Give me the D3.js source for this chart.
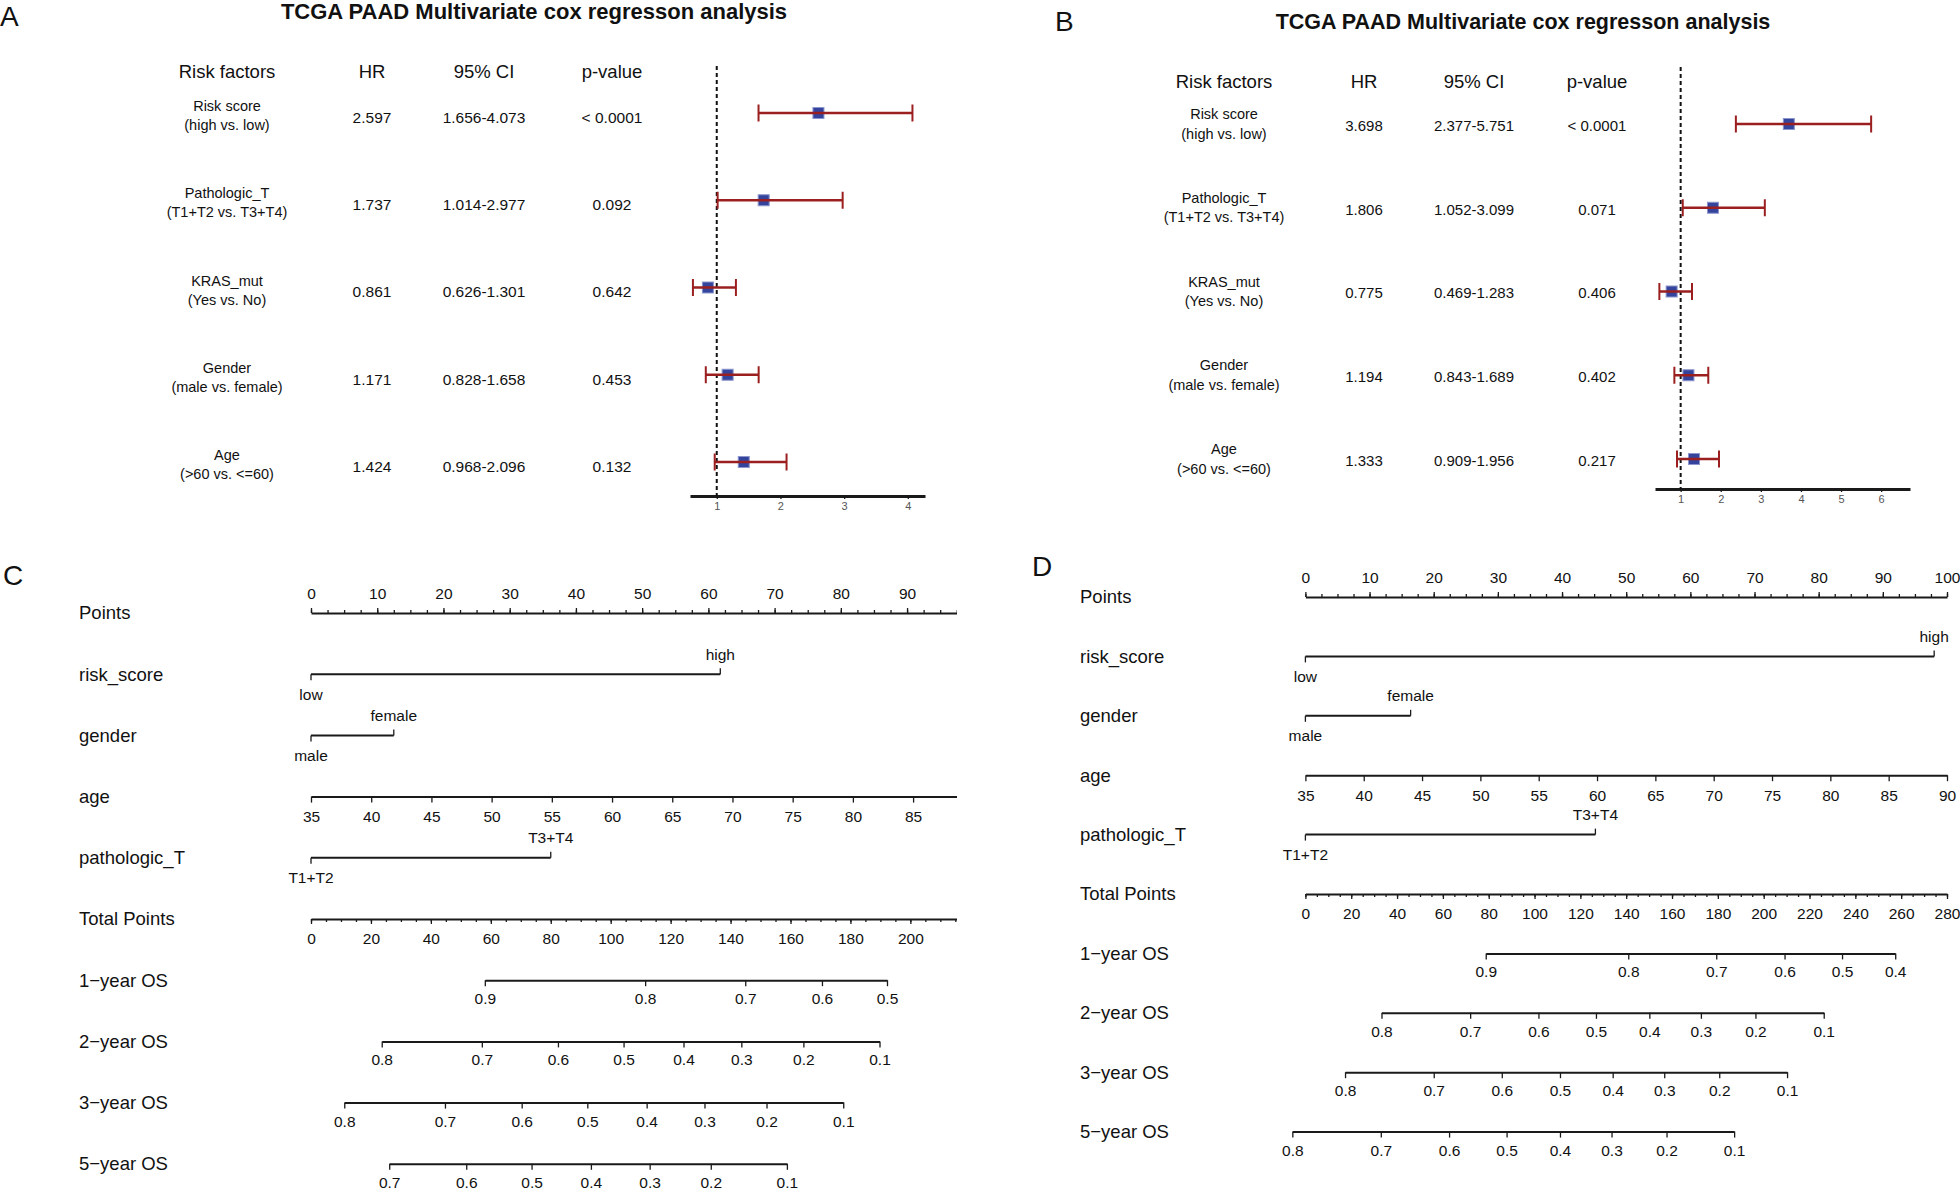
<!DOCTYPE html>
<html>
<head>
<meta charset="utf-8">
<script src="https://cdn.jsdelivr.net/npm/d3@7"></script>
<style>
  body { margin: 0; background: #fff; }
  svg { display: block; font-family: "Liberation Sans", Arial, sans-serif; }
</style>
</head>
<body>
<script>
// ---- A / B : multivariate cox regression ----
var factorNames = ["Risk score", "Pathologic_T", "KRAS_mut", "Gender", "Age"];
var factorContrasts = ["(high vs. low)", "(T1+T2 vs. T3+T4)", "(Yes vs. No)", "(male vs. female)", "(>60 vs. <=60)"];
var headers = ["Risk factors", "HR", "95% CI", "p-value"];

var hrA = [2.597, 1.737, 0.861, 1.171, 1.424];
var lowA = [1.656, 1.014, 0.626, 0.828, 0.968];
var highA = [4.073, 2.977, 1.301, 1.658, 2.096];
var pA = ["< 0.0001", "0.092", "0.642", "0.453", "0.132"];
var forestTicksA = [1, 2, 3, 4];

var hrB = [3.698, 1.806, 0.775, 1.194, 1.333];
var lowB = [2.377, 1.052, 0.469, 0.843, 0.909];
var highB = [5.751, 3.099, 1.283, 1.689, 1.956];
var pB = ["< 0.0001", "0.071", "0.406", "0.402", "0.217"];
var forestTicksB = [1, 2, 3, 4, 5, 6];

// ---- C / D : nomograms ----
var nomoLabels = ["Points", "risk_score", "gender", "age", "pathologic_T", "Total Points",
    "1\u2212year OS", "2\u2212year OS", "3\u2212year OS", "5\u2212year OS"];
var riskLevels = ["low", "high"];
var genderLevels = ["male", "female"];
var tLevels = ["T1+T2", "T3+T4"];
var pointTicks = [0, 10, 20, 30, 40, 50, 60, 70, 80, 90, 100];
var ageTicks = [35, 40, 45, 50, 55, 60, 65, 70, 75, 80, 85, 90];

// panel C (points for each level)
var riskPtsC = [0, 61.8];
var genderPtsC = [0, 12.5];
var tPtsC = [0, 36.2];
var totalTicksC = [0, 20, 40, 60, 80, 100, 120, 140, 160, 180, 200, 220];
var totalMaxC = 221;
var os1yC = [0.9, 0.8, 0.7, 0.6, 0.5];
var os1yTotalC = [58.0, 111.5, 144.9, 170.5, 192.2];
var os2yC = [0.8, 0.7, 0.6, 0.5, 0.4, 0.3, 0.2, 0.1];
var os2yTotalC = [23.6, 57.0, 82.4, 104.3, 124.3, 143.6, 164.3, 189.7];
var os3yC = [0.8, 0.7, 0.6, 0.5, 0.4, 0.3, 0.2, 0.1];
var os3yTotalC = [11.1, 44.7, 70.3, 92.2, 112.0, 131.3, 152.0, 177.6];
var os5yC = [0.7, 0.6, 0.5, 0.4, 0.3, 0.2, 0.1];
var os5yTotalC = [26.1, 51.8, 73.6, 93.4, 113.0, 133.4, 158.8];

// panel D
var riskPtsD = [0, 98.0];
var genderPtsD = [0, 16.4];
var tPtsD = [0, 45.2];
var totalTicksD = [0, 20, 40, 60, 80, 100, 120, 140, 160, 180, 200, 220, 240, 260, 280];
var totalMaxD = 280;
var os1yD = [0.9, 0.8, 0.7, 0.6, 0.5, 0.4];
var os1yTotalD = [78.7, 140.9, 179.3, 209.1, 234.2, 257.4];
var os2yD = [0.8, 0.7, 0.6, 0.5, 0.4, 0.3, 0.2, 0.1];
var os2yTotalD = [33.2, 71.9, 101.7, 126.8, 150.1, 172.6, 196.4, 226.2];
var os3yD = [0.8, 0.7, 0.6, 0.5, 0.4, 0.3, 0.2, 0.1];
var os3yTotalD = [17.3, 56.0, 85.7, 111.1, 134.1, 156.6, 180.6, 210.2];
var os5yD = [0.8, 0.7, 0.6, 0.5, 0.4, 0.3, 0.2, 0.1];
var os5yTotalD = [-5.7, 32.9, 62.7, 87.8, 111.1, 133.6, 157.6, 187.1];

var ink = "#1a1a1a";

var svg = d3.select("body").append("svg")
    .attr("width", 1960)
    .attr("height", 1192);

//text helper, y is the visual middle of the text
function addText(g, x, y, str, size, anchor, weight) {
    return g.append("text")
        .attr("x", x)
        .attr("y", y)
        .attr("dy", "0.35em")
        .attr("font-size", size)
        .attr("text-anchor", anchor || "middle")
        .attr("font-weight", weight || "normal")
        .attr("fill", "#111")
        .text(str);
}

function styleAxis(ax, domainWidth, labelSize) {
    ax.attr("font-family", null).attr("font-size", null);
    ax.select(".domain").attr("stroke", ink).attr("stroke-width", domainWidth);
    ax.selectAll(".tick line").attr("stroke", ink).attr("stroke-width", 1.3);
    ax.selectAll(".tick text").attr("fill", "#111").attr("font-size", labelSize);
}

//forest plot panel
function drawForest(p) {
    var g = svg.append("g");
    addText(g, p.letterX, p.letterY, p.letter, 28, "start");
    addText(g, p.titleX, p.titleY, "TCGA PAAD Multivariate cox regresson analysis", p.titleSize, "middle", "bold");

    headers.forEach(function(h, i) {
        addText(g, p.colX[i], p.headerY, h, 18.5);
    });

    var y = d3.scaleLinear().domain([0, factorNames.length - 1]).range(p.rowRange);
    var x = d3.scaleLinear().domain(p.xDomain).range(p.xRange);

    var rows = factorNames.map(function(f, i) {
        return { name: f, contrast: factorContrasts[i], hr: p.hr[i], lo: p.low[i], hi: p.high[i], pv: p.p[i], i: i };
    });

    rows.forEach(function(d) {
        addText(g, p.colX[0], y(d.i) + p.labelOff[0], d.name, 14.5);
        addText(g, p.colX[0], y(d.i) + p.labelOff[1], d.contrast, 14.5);
        addText(g, p.colX[1], y(d.i) + p.valueOff, d.hr.toFixed(3), p.valueSize);
        addText(g, p.colX[2], y(d.i) + p.valueOff, d.lo.toFixed(3) + "-" + d.hi.toFixed(3), p.valueSize);
        addText(g, p.colX[3], y(d.i) + p.valueOff, d.pv, p.valueSize);
    });

    //x axis
    var ax = g.append("g")
        .attr("transform", "translate(0," + p.axisY + ")")
        .call(d3.axisBottom(x).tickValues(p.ticks).tickSize(3).tickSizeOuter(0).tickPadding(3)
            .tickFormat(d3.format("d")));
    styleAxis(ax, 3, 11);
    ax.selectAll(".tick text").attr("fill", "#555");

    //reference line at HR = 1
    g.append("line")
        .attr("x1", x(1)).attr("x2", x(1))
        .attr("y1", p.dashTop).attr("y2", p.axisY)
        .attr("stroke", "#111")
        .attr("stroke-width", 2)
        .attr("stroke-dasharray", "4,3");

    //boxes
    g.selectAll(".box").data(rows).join("rect")
        .attr("class", "box")
        .attr("x", function(d) { return x(d.hr) - 5.5; })
        .attr("y", function(d) { return y(d.i) - 5.5; })
        .attr("width", 11)
        .attr("height", 11)
        .attr("fill", "#34449c")
        .attr("stroke", "#8c95cc")
        .attr("stroke-width", 1);

    //confidence intervals
    g.selectAll(".ci").data(rows).join("line")
        .attr("class", "ci")
        .attr("x1", function(d) { return x(d.lo); })
        .attr("x2", function(d) { return x(d.hi); })
        .attr("y1", function(d) { return y(d.i); })
        .attr("y2", function(d) { return y(d.i); })
        .attr("stroke", "#9b1f1f")
        .attr("stroke-width", 2.5);

    var ends = [];
    rows.forEach(function(d) { ends.push({ v: d.lo, i: d.i }, { v: d.hi, i: d.i }); });
    g.selectAll(".whisker").data(ends).join("line")
        .attr("class", "whisker")
        .attr("x1", function(d) { return x(d.v); })
        .attr("x2", function(d) { return x(d.v); })
        .attr("y1", function(d) { return y(d.i) - 8.5; })
        .attr("y2", function(d) { return y(d.i) + 8.5; })
        .attr("stroke", "#9b1f1f")
        .attr("stroke-width", 2);
}

//categorical row of the nomogram: first level below, second above
function catRow(g, x, y, levels, pts) {
    g.append("line")
        .attr("x1", x(d3.min(pts))).attr("x2", x(d3.max(pts)))
        .attr("y1", y).attr("y2", y)
        .attr("stroke", ink).attr("stroke-width", 2);
    var marks = levels.map(function(lv, k) {
        return { label: lv, p: pts[k], dir: k === 0 ? 1 : -1 };
    });
    g.selectAll(null).data(marks).join("line")
        .attr("x1", function(d) { return x(d.p); })
        .attr("x2", function(d) { return x(d.p); })
        .attr("y1", y)
        .attr("y2", function(d) { return y + d.dir * 6; })
        .attr("stroke", ink).attr("stroke-width", 1.3);
    marks.forEach(function(d) {
        addText(g, x(d.p), y + d.dir * 20, d.label, 15.5);
    });
}

//nomogram panel
function drawNomogram(p) {
    var outer = svg.append("g");
    addText(outer, p.letterX, p.letterY, p.letter, 28, "start");

    var g = outer.append("g");
    if (p.clipRight) {
        svg.append("defs").append("clipPath").attr("id", p.letter + "clip")
            .append("rect").attr("x", 0).attr("y", 520).attr("width", p.clipRight).attr("height", 700);
        g.attr("clip-path", "url(#" + p.letter + "clip)");
    }

    var rowY = d3.scaleLinear().domain([0, 9]).range([p.y0, p.y0 + 9 * p.dy]);
    var pts = d3.scaleLinear().domain([0, 100]).range([p.x0, p.x1]);
    var tot = d3.scaleLinear().domain([0, p.totalMax]).range([p.x0, p.x1]);
    var age = d3.scaleLinear().domain([35, 90]).range([p.x0, p.x1]);

    nomoLabels.forEach(function(lab, i) {
        addText(outer, p.labelX, rowY(i), lab, 18.5, "start");
    });

    //Points axis (ticks up)
    var minor = g.append("g").attr("transform", "translate(0," + rowY(0) + ")")
        .call(d3.axisTop(pts).tickValues(d3.range(0, 100.1, 2.5)).tickSize(3).tickFormat(""));
    styleAxis(minor, 0, 15.5);
    minor.select(".domain").remove();
    var major = g.append("g").attr("transform", "translate(0," + rowY(0) + ")")
        .call(d3.axisTop(pts).tickValues(pointTicks).tickSize(5).tickSizeOuter(0));
    styleAxis(major, 2, 15.5);
    major.selectAll(".tick text").attr("y", -19).attr("dy", "0.35em");

    catRow(g, pts, rowY(1), riskLevels, p.riskPts);
    catRow(g, pts, rowY(2), genderLevels, p.genderPts);

    //age
    var ageAx = g.append("g").attr("transform", "translate(0," + rowY(3) + ")")
        .call(d3.axisBottom(age).tickValues(ageTicks).tickSize(6).tickSizeOuter(0));
    styleAxis(ageAx, 2, 15.5);
    ageAx.selectAll(".tick text").attr("y", 20).attr("dy", "0.35em");

    catRow(g, pts, rowY(4), tLevels, p.tPts);

    //Total Points
    var totMinor = g.append("g").attr("transform", "translate(0," + rowY(5) + ")")
        .call(d3.axisBottom(tot).tickValues(d3.range(0, p.totalMax + 0.1, 5)).tickSize(3).tickFormat(""));
    styleAxis(totMinor, 0, 15.5);
    totMinor.select(".domain").remove();
    var totMajor = g.append("g").attr("transform", "translate(0," + rowY(5) + ")")
        .call(d3.axisBottom(tot).tickValues(p.totalTicks).tickSize(5).tickSizeOuter(0));
    styleAxis(totMajor, 2, 15.5);
    totMajor.selectAll(".tick text").attr("y", 20).attr("dy", "0.35em");

    //survival axes, placed on the Total Points scale
    p.os.forEach(function(o, k) {
        var s = d3.scaleLinear().domain(o[0]).range(o[1].map(tot));
        var ax = g.append("g").attr("transform", "translate(0," + rowY(6 + k) + ")")
            .call(d3.axisBottom(s).tickValues(o[0]).tickSize(6).tickSizeOuter(0).tickFormat(d3.format(".1f")));
        styleAxis(ax, 2, 15.5);
        ax.selectAll(".tick text").attr("y", 18.5).attr("dy", "0.35em");
    });
}

drawForest({
    letter: "A", letterX: 0, letterY: 16,
    titleX: 534, titleY: 11, titleSize: 22,
    colX: [227, 372, 484, 612], headerY: 72,
    rowRange: [113, 462], labelOff: [-7, 12], valueOff: 4.5, valueSize: 15.5,
    xDomain: [0.58, 4.27], xRange: [690, 925],
    axisY: 496, dashTop: 66, ticks: forestTicksA,
    hr: hrA, low: lowA, high: highA, p: pA
});

drawForest({
    letter: "B", letterX: 1055, letterY: 21,
    titleX: 1523, titleY: 21.7, titleSize: 21.5,
    colX: [1224, 1364, 1474, 1597], headerY: 82,
    rowRange: [124, 459], labelOff: [-10, 9.5], valueOff: 1.5, valueSize: 15,
    xDomain: [0.36, 6.72], xRange: [1655, 1910],
    axisY: 489, dashTop: 67, ticks: forestTicksB,
    hr: hrB, low: lowB, high: highB, p: pB
});

drawNomogram({
    letter: "C", letterX: 3, letterY: 575,
    labelX: 79, y0: 613, dy: 61.2,
    x0: 311, x1: 973.3, totalMax: totalMaxC, totalTicks: totalTicksC, clipRight: 957,
    riskPts: riskPtsC, genderPts: genderPtsC, tPts: tPtsC,
    os: [[os1yC, os1yTotalC], [os2yC, os2yTotalC], [os3yC, os3yTotalC], [os5yC, os5yTotalC]]
});

drawNomogram({
    letter: "D", letterX: 1032, letterY: 566,
    labelX: 1080, y0: 597, dy: 59.4,
    x0: 1305.4, x1: 1947, totalMax: totalMaxD, totalTicks: totalTicksD, clipRight: null,
    riskPts: riskPtsD, genderPts: genderPtsD, tPts: tPtsD,
    os: [[os1yD, os1yTotalD], [os2yD, os2yTotalD], [os3yD, os3yTotalD], [os5yD, os5yTotalD]]
});
</script>
</body>
</html>
